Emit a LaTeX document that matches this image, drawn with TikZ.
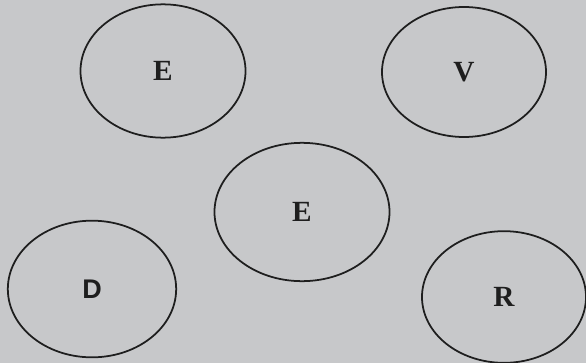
\documentclass[tikz,border=0pt]{standalone}
\usepackage{fontspec}
\setmainfont{Liberation Serif}
\setsansfont{Liberation Sans}
\usepackage{xcolor}
\usepackage{tikz}
\usetikzlibrary{shapes.geometric, positioning, backgrounds}

\definecolor{paper}{RGB}{199,200,202}
\definecolor{pen}{RGB}{30,30,30}

\begin{document}
\begin{tikzpicture}[
      x=0.03cm, y=-0.03cm,
      every node/.style = {shape=ellipse, draw=pen, line width=1.5pt,
        inner sep=0pt, text=pen, font=\fontsize{25}{30}\selectfont\bfseries}
    ]
      \fill[paper] (0,0) rectangle (586,363);
      \useasboundingbox (0,0) rectangle (586,363);
      \node[minimum width=4.95cm, minimum height=4.0cm] (etop) at (163,71) {E};
      \node[minimum width=4.92cm, minimum height=3.9cm] (v) at (464,72) {V};
      \node[minimum width=5.25cm, minimum height=4.15cm] (emid) at (302,212) {E};
      \node[minimum width=5.05cm, minimum height=4.1cm,
        font=\fontsize{23}{28}\selectfont\sffamily\bfseries] (d) at (92,289) {D};
      \node[minimum width=4.92cm, minimum height=3.95cm] (r) at (504,297) {R};
    \end{tikzpicture}
\end{document}
